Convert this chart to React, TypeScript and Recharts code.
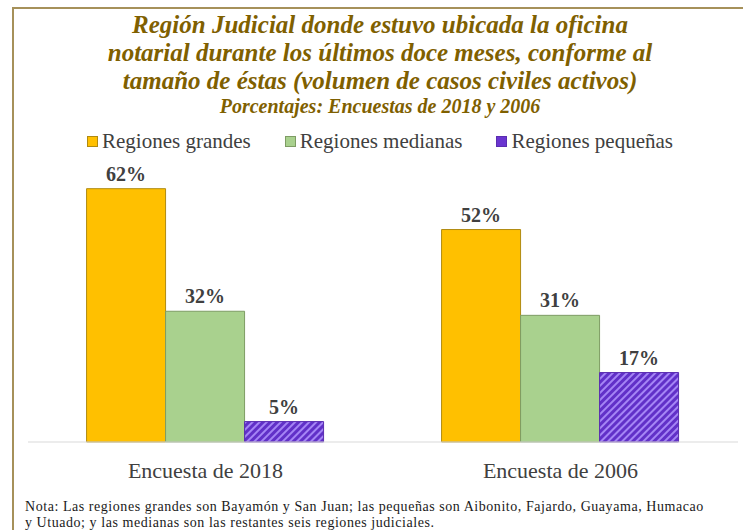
import React from 'react';
import { BarChart, Bar, XAxis, YAxis, LabelList } from 'recharts';

const surveys = ['Encuesta de 2018', 'Encuesta de 2006'];
const grandes = [62, 52];
const medianas = [32, 31];
const pequenas = [5, 17];

const seriesNames = ['Regiones grandes', 'Regiones medianas', 'Regiones pequeñas'];
const seriesKeys = ['grandes', 'medianas', 'pequenas'];
const seriesFills = ['#FFC000', '#A9D18E', 'url(#hatchPurple)'];
const seriesStrokes = ['#B08A10', '#7E9C64', '#5A2DB0'];
const legendFills = ['#FFC000', '#A9D18E', '#6A35D0'];

const titleLines = [
  'Región Judicial donde estuvo ubicada la oficina',
  'notarial durante los últimos doce meses, conforme al',
  'tamaño de éstas (volumen de casos civiles activos)',
];
const subtitle = 'Porcentajes: Encuestas de 2018 y 2006';
const noteLines = [
  'Nota: Las regiones grandes son Bayamón y San Juan; las pequeñas son Aibonito, Fajardo, Guayama, Humacao',
  'y Utuado; y las medianas son las restantes seis regiones judiciales.',
];

const data = surveys.map((s, i) => ({
  name: s,
  grandes: grandes[i],
  medianas: medianas[i],
  pequenas: pequenas[i],
}));

const serif = '"Liberation Serif", "DejaVu Serif", serif';

export default function App() {
  return (
    <div style={{ position: 'absolute', left: 0, top: 0, width: 743, height: 530, overflow: 'hidden', background: '#fff', fontFamily: serif }}>
      <svg width={0} height={0} style={{ position: 'absolute' }}>
        <defs>
          <pattern id="hatchPurple" width={5} height={5} patternUnits="userSpaceOnUse" patternTransform="rotate(45)">
            <rect width={5} height={5} fill="#6130C8" />
            <rect x={0} width={2} height={5} fill="#A585F5" />
          </pattern>
        </defs>
      </svg>
      <div style={{ position: 'absolute', left: 12, top: 7, width: 760, height: 560, border: '2px solid #A6915A' }} />

      <div style={{ position: 'absolute', left: 14, width: 732, top: 11, textAlign: 'center', color: '#7F6000', fontWeight: 'bold', fontStyle: 'italic' }}>
        {titleLines.map((t, i) => (
          <div key={i} style={{ fontSize: 25, lineHeight: '28px' }}>{t}</div>
        ))}
        <div style={{ fontSize: 20, lineHeight: '22px' }}>{subtitle}</div>
      </div>

      <div style={{ position: 'absolute', left: 14, width: 732, top: 129, display: 'flex', justifyContent: 'center', color: '#404040', fontSize: 21 }}>
        {seriesNames.map((n, i) => (
          <div key={n} style={{ display: 'flex', alignItems: 'center', marginRight: i < 2 ? 34 : 0 }}>
            <span style={{ display: 'inline-block', width: 9, height: 9, background: legendFills[i], border: `1px solid ${seriesStrokes[i]}`, marginRight: 4 }} />
            <span>{n}</span>
          </div>
        ))}
      </div>

      <div style={{ position: 'absolute', left: 0, top: 150 }}>
        <BarChart width={743} height={332} data={data} margin={{ top: 6, right: 5, left: 28, bottom: 0 }} barCategoryGap="16.5%" barGap={0}>
          <XAxis
            dataKey="name"
            axisLine={{ stroke: '#D9D9D9' }}
            tickLine={false}
            height={40}
            tick={{ fill: '#404040', fontSize: 22, fontFamily: serif, dy: 12 }}
          />
          <YAxis hide domain={[0, 70]} />
          {seriesKeys.map((k, i) => (
            <Bar key={k} dataKey={k} name={seriesNames[i]} fill={seriesFills[i]} stroke={seriesStrokes[i]} strokeWidth={1} isAnimationActive={false}>
              <LabelList dataKey={k} position="top" offset={8} formatter={(v: any) => `${v}%`} style={{ fill: '#404040', fontSize: 20, fontWeight: 'bold', fontFamily: serif }} />
            </Bar>
          ))}
        </BarChart>
      </div>

      <div style={{ position: 'absolute', left: 25, top: 499, color: '#1a1a1a', fontSize: 14, letterSpacing: 0.55, lineHeight: '16px', whiteSpace: 'nowrap' }}>
        {noteLines.map((t, i) => (
          <div key={i}>{t}</div>
        ))}
      </div>
    </div>
  );
}
